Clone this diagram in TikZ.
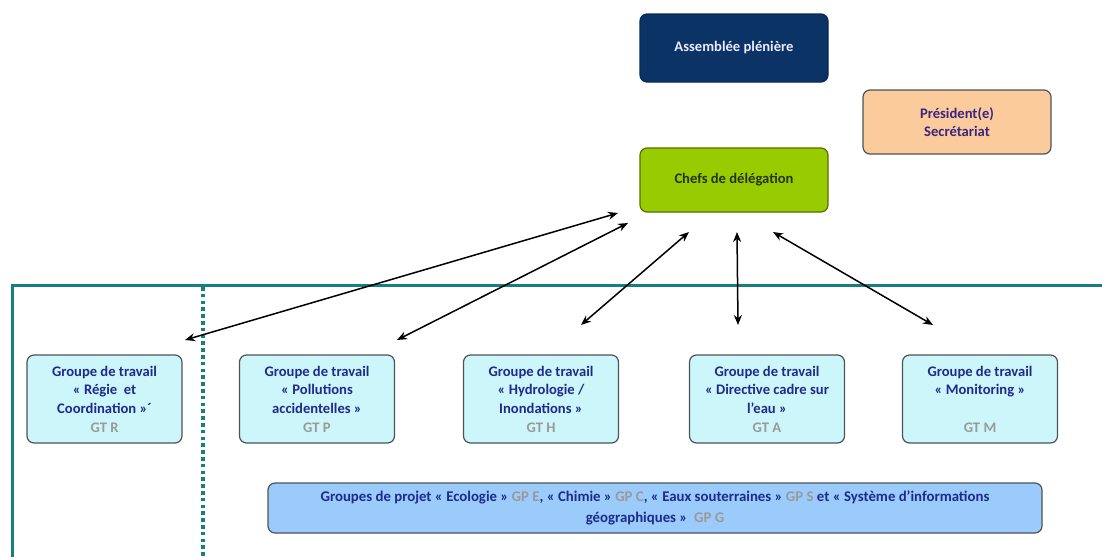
\documentclass[tikz,border=0pt]{standalone}
\usepackage{fontspec}
\setmainfont{Carlito}
\usetikzlibrary{arrows.meta}
\definecolor{navybox}{HTML}{0B3366}
\definecolor{peach}{HTML}{FBCB9B}
\definecolor{lime}{HTML}{99CC00}
\definecolor{cyanbox}{HTML}{CCF6FA}
\definecolor{bluebox}{HTML}{9ACBFB}
\definecolor{navytext}{HTML}{1E2A8C}
\definecolor{purpletext}{HTML}{3A2580}
\definecolor{greentext}{HTML}{26330F}
\definecolor{codegray}{HTML}{9A9A9A}
\definecolor{teal}{HTML}{177F80}
\definecolor{boxborder}{HTML}{4C5458}
\begin{document}
\begin{tikzpicture}[x=1pt,y=-1pt,
  box/.style={rounded corners=7pt, line width=1.2pt, align=center, inner sep=2pt,
    font=\bfseries\fontsize{14.6}{18.7}\selectfont},
  gt/.style={box, draw=boxborder, fill=cyanbox, text=navytext, minimum width=155pt, minimum height=88pt},
  link/.style={{Stealth[length=10pt,width=8pt]}-{Stealth[length=10pt,width=8pt]}, line width=1.5pt, black},
  frame/.style={teal, line width=3pt},
  code/.style={text=codegray}]
\useasboundingbox (0,0) rectangle (1102,557);
% frame
\draw[frame] (12,557) -- (12,285) -- (1102,285);
\draw[teal, line width=3.4pt, dash pattern=on 3.6pt off 3.2pt] (203,287) -- (203,557);
% top nodes
\node[box, draw=navybox!80!black, fill=navybox, text=white!92!blue, minimum width=188pt, minimum height=68pt] (asm) at (734,48) {Assemblée plénière};
\node[box, draw=boxborder, fill=peach, text=purpletext, minimum width=188pt, minimum height=64pt] (pres) at (957,122) {Président(e)\\Secrétariat};
\node[box, draw=lime!55!black, fill=lime, text=greentext, minimum width=188pt, minimum height=64pt] (chefs) at (734,180) {Chefs de délégation};
% working groups
\node[gt] (gtr) at (104.5,399) {Groupe de travail\\« Régie~ et\\Coordination »´\\{\color{codegray}GT R}};
\node[gt] (gtp) at (317,399) {Groupe de travail\\« Pollutions\\accidentelles »\\{\color{codegray}GT P}};
\node[gt] (gth) at (541,399) {Groupe de travail\\« Hydrologie /\\Inondations »\\{\color{codegray}GT H}};
\node[gt] (gta) at (767,399) {Groupe de travail\\« Directive cadre sur\\l’eau »\\{\color{codegray}GT A}};
\node[gt] (gtm) at (980,399) {Groupe de travail\\« Monitoring »\\\strut\\{\color{codegray}GT M}};
% project groups
\node[box, draw=boxborder, fill=bluebox, text=navytext, minimum width=774pt, minimum height=50pt,
  font=\bfseries\fontsize{14.8}{21}\selectfont] (proj) at (655,508)
  {Groupes de projet « Ecologie » {\color{codegray}GP E}, « Chimie » {\color{codegray}GP C}, « Eaux souterraines » {\color{codegray}GP S} et « Système d’informations\\géographiques » ~{\color{codegray}GP G}};
% link end points
\coordinate (c1) at (618,213);
\coordinate (c2) at (628,223);
\coordinate (c3) at (689,232);
\coordinate (c4) at (737,232);
\coordinate (c5) at (773,232);
\coordinate (e1) at (185,340);
\coordinate (e2) at (397,340);
\coordinate (e3) at (581,325);
\coordinate (e4) at (738,325);
\coordinate (e5) at (933,325);
\draw[link] (c1) -- (e1);
\draw[link] (c2) -- (e2);
\draw[link] (c3) -- (e3);
\draw[link] (c4) -- (e4);
\draw[link] (c5) -- (e5);
\end{tikzpicture}
\end{document}
